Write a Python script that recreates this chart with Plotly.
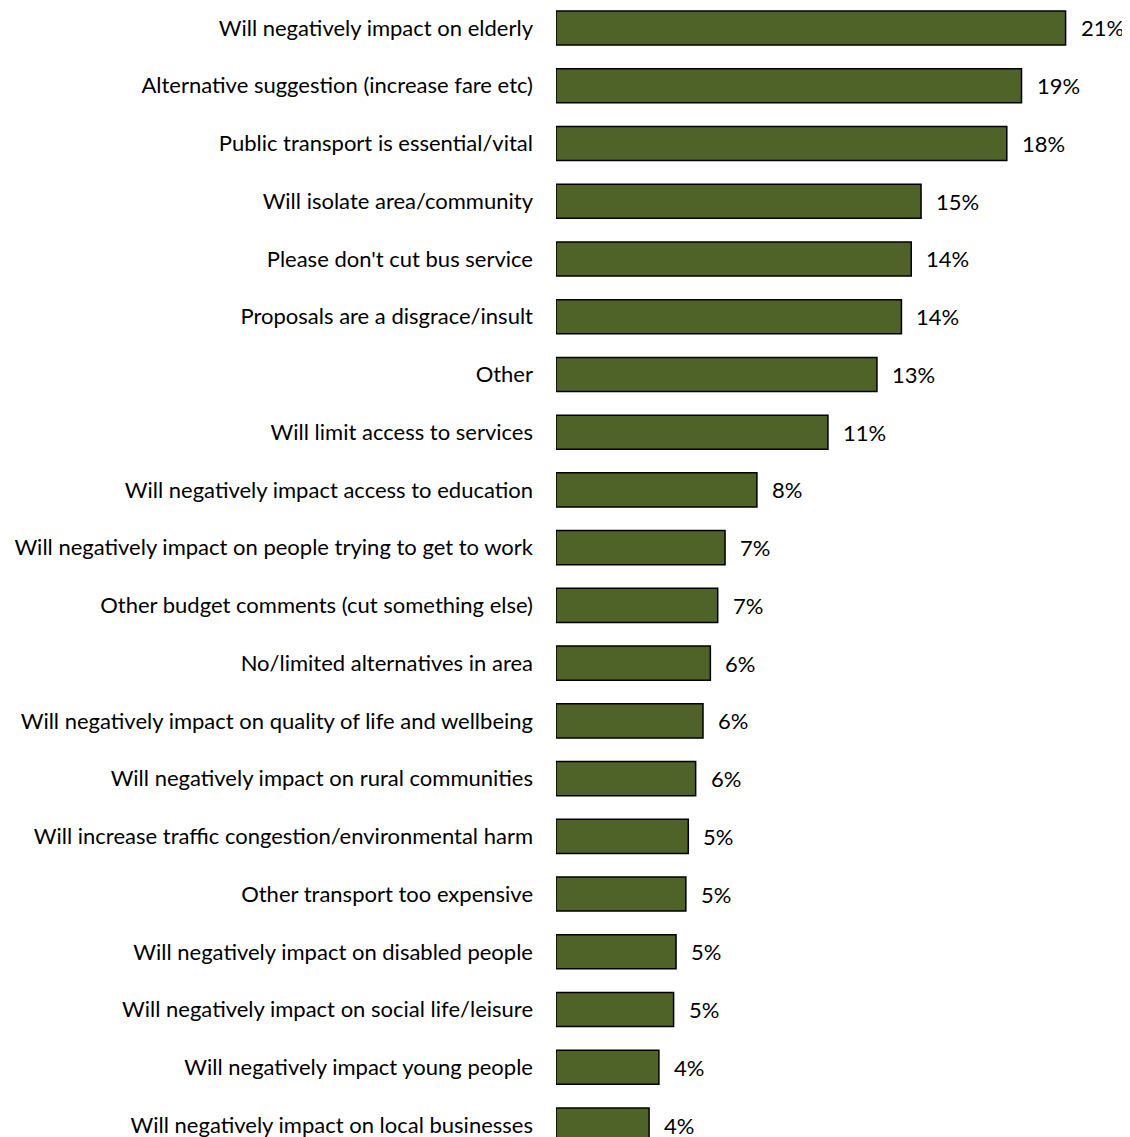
import plotly.graph_objects as go

categories = [
    "Will negatively impact on elderly",
    "Alternative suggestion (increase fare etc)",
    "Public transport is essential/vital",
    "Will isolate area/community",
    "Please don't cut bus service",
    "Proposals are a disgrace/insult",
    "Other",
    "Will limit access to services",
    "Will negatively impact access to education",
    "Will negatively impact on people trying to get to work",
    "Other budget comments (cut something else)",
    "No/limited alternatives in area",
    "Will negatively impact on quality of life and wellbeing",
    "Will negatively impact on rural communities",
    "Will increase traffic congestion/environmental harm",
    "Other transport too expensive",
    "Will negatively impact on disabled people",
    "Will negatively impact on social life/leisure",
    "Will negatively impact young people",
    "Will negatively impact on local businesses",
]
values = [20.8, 19.0, 18.4, 14.9, 14.5, 14.1, 13.1, 11.1, 8.2, 6.9,
          6.6, 6.3, 6.0, 5.7, 5.4, 5.3, 4.9, 4.8, 4.2, 3.8]
labels = ["21%", "19%", "18%", "15%", "14%", "14%", "13%", "11%", "8%", "7%",
          "7%", "6%", "6%", "6%", "5%", "5%", "5%", "5%", "4%", "4%"]

positions = list(range(len(categories)))
FONT = "Lato"
FSIZE = 22

fig = go.Figure()
fig.add_trace(go.Bar(
    x=values, y=positions, orientation="h",
    marker=dict(color="#4F6228", line=dict(color="#000000", width=1.5)),
    width=0.59,
    hoverinfo="skip",
))

for v, lab, p in zip(values, labels, positions):
    fig.add_annotation(x=v, y=p, text=lab, showarrow=False,
                       xanchor="left", yanchor="middle", xshift=13,
                       font=dict(family=FONT, size=FSIZE, color="#000000"))

fig.update_layout(
    width=1122, height=1129,
    margin=dict(l=548, r=0, t=0, b=0),
    plot_bgcolor="white", paper_bgcolor="white",
    showlegend=False,
    font=dict(family=FONT, size=FSIZE, color="#000000"),
)
fig.update_xaxes(range=[0, 574 / 24.5], visible=False)
fig.update_yaxes(
    range=[19.207, -0.346],
    tickvals=positions, ticktext=categories,
    showgrid=False, zeroline=False, showline=False,
    ticks="", ticklabelstandoff=22, ticklabeloverflow="allow",
    tickfont=dict(family=FONT, size=FSIZE, color="#000000"),
)

fig.write_html("out.html")
